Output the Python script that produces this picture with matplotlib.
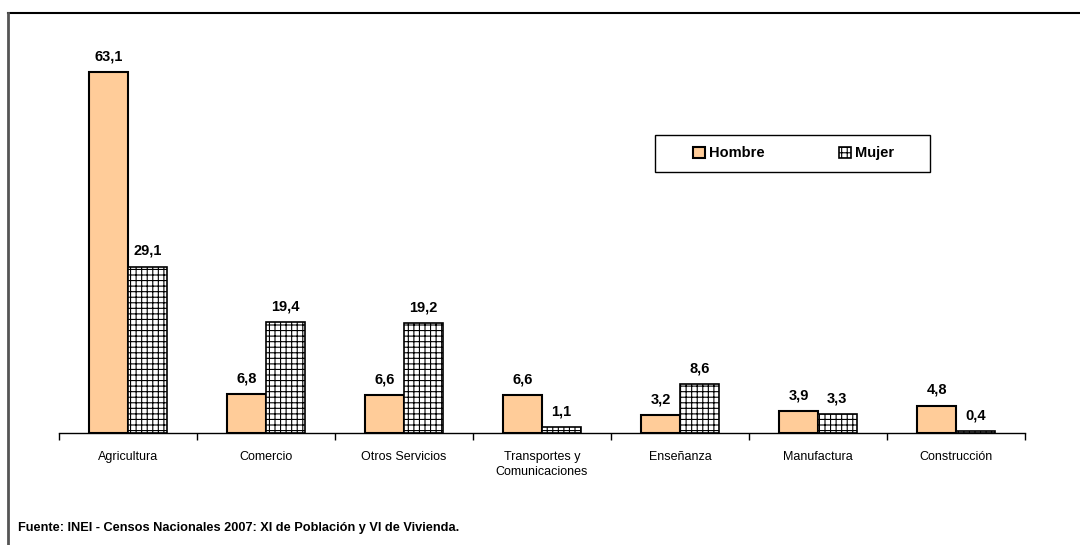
import matplotlib
matplotlib.use("Agg")
import matplotlib.pyplot as plt
from matplotlib.patches import Rectangle
from matplotlib.lines import Line2D
import numpy as np

plt.rcParams['font.family'] = ['Liberation Sans Narrow', 'Liberation Sans', 'DejaVu Sans']
plt.rcParams['hatch.linewidth'] = 0.8

categories = ["Agricultura", "Comercio", "Otros Servicios", "Transportes y\nComunicaciones",
              "Enseñanza", "Manufactura", "Construcción"]
hombre = [63.1, 6.8, 6.6, 6.6, 3.2, 3.9, 4.8]
mujer = [29.1, 19.4, 19.2, 1.1, 8.6, 3.3, 0.4]
series_names = ["Hombre", "Mujer"]
source = "Fuente: INEI - Censos Nacionales 2007: XI de Población y VI de Vivienda."

W, H = 1080, 545
fig = plt.figure(figsize=(W / 100, H / 100), dpi=100)

# figure frame (top and left lines)
fig.add_artist(Line2D([8 / W, 1.0], [1 - 13 / H, 1 - 13 / H], color="black", lw=1.5, transform=fig.transFigure))
fig.add_artist(Line2D([8 / W, 8 / W], [1 - 13 / H, 0], color="#555555", lw=2, transform=fig.transFigure))

left, right = 59 / W, 1025 / W
bottom = 1 - 433 / H
ymax = 70
top_px = 433 - ymax * (361 / 63.1)
ax = fig.add_axes([left, bottom, right - left, (433 - top_px) / H])

x = np.arange(len(categories))
w = 0.28
ax.bar(x - w / 2, hombre, w, color="#FFCC99", edgecolor="black", linewidth=1.5, label=series_names[0])
ax.bar(x + w / 2, mujer, w, color="white", edgecolor="black", linewidth=1.2, hatch="+++", label=series_names[1])

for xi, v in zip(x - w / 2, hombre):
    ax.text(xi, v + 1.5, f"{v:.1f}".replace(".", ","), ha="center", va="bottom", fontsize=10.5, fontweight="bold")
for xi, v in zip(x + w / 2, mujer):
    ax.text(xi, v + 1.5, f"{v:.1f}".replace(".", ","), ha="center", va="bottom", fontsize=10.5, fontweight="bold")

ax.set_xlim(-0.5, len(categories) - 0.5)
ax.set_ylim(0, ymax)
for s in ["top", "right", "left"]:
    ax.spines[s].set_visible(False)
ax.spines["bottom"].set_linewidth(1.0)
ax.set_yticks([])
ax.set_xticks(x)
ax.set_xticklabels(categories, fontsize=9, linespacing=1.35)
ax.tick_params(axis="x", length=0, pad=13)
ax.set_xticks(np.arange(len(categories) + 1) - 0.5, minor=True)
ax.tick_params(axis="x", which="minor", length=5, width=1, direction="out")

def fx(px):
    return px / W

def fy(py):
    return 1 - py / H

fig.add_artist(Rectangle((fx(655), fy(172)), fx(930) - fx(655), fy(135) - fy(172),
                         transform=fig.transFigure, fill=False, edgecolor="black", lw=1.0))
leg = fig.legend(loc="center left", bbox_to_anchor=(fx(693), fy(153.5)),
                 ncol=2, frameon=False, fontsize=10.5,
                 handlelength=0.85, handleheight=0.85, handletextpad=0.25, columnspacing=5.1,
                 borderpad=0, borderaxespad=0)
for t in leg.get_texts():
    t.set_fontweight("bold")

fig.text(18 / W, 1 - 528 / H, source, fontsize=9.2, fontweight="bold", va="center", ha="left")

fig.savefig("out.png", dpi=100)
